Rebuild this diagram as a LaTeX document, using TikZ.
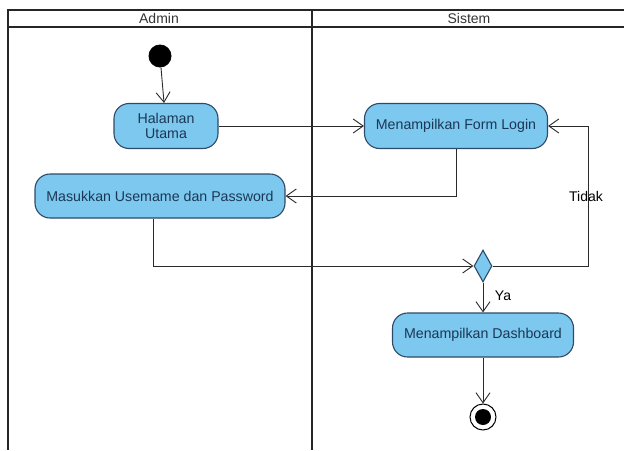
\documentclass[tikz,border=0pt]{standalone}
\usepackage{fontspec}
\setmainfont{Liberation Sans}
\usetikzlibrary{arrows.meta,shapes.geometric}
\definecolor{actfill}{HTML}{7CC8EE}
\definecolor{actdraw}{HTML}{2E4A68}
\definecolor{acttext}{HTML}{1C3756}
\definecolor{flow}{HTML}{2A2A2A}
\begin{document}
\begin{tikzpicture}[x=1pt,y=-1pt,
  act/.style={draw=actdraw,fill=actfill,line width=1.1pt,rounded corners=15pt,
    inner sep=0pt,text=acttext,font=\fontsize{14.2}{15.5}\selectfont,align=center},
  flowline/.style={draw=flow,line width=0.9pt,-{Straight Barb[length=10pt,width=14pt,line width=0.9pt]}},
  lane/.style={draw=black!85,line width=2pt},
  lbl/.style={font=\fontsize{14}{15}\selectfont,text=black,inner sep=0pt}]
\useasboundingbox (0,0) rectangle (624,450);
% swimlanes
\draw[lane] (8,450) -- (8,10) -- (626,10);
\draw[lane] (8,27) -- (626,27);
\draw[lane] (312,10) -- (312,450);
\node[lbl,text=black!80] (hadmin) at (159,18.5) {Admin};
\node[lbl,text=black!80] (hsistem) at (469,18.5) {Sistem};
% nodes
\node[circle,fill=black,minimum size=23pt,inner sep=0pt] (start) at (160,56) {};
\node[act,minimum width=104pt,minimum height=45pt] (halaman) at (166,126) {Halaman\\Utama};
\node[act,minimum width=183pt,minimum height=45pt] (form) at (456,126) {Menampilkan Form Login};
\node[act,minimum width=250pt,minimum height=44pt] (masuk) at (160,196) {Masukkan Usemame dan Password};
\node[diamond,draw=actdraw,fill=actfill,line width=1.1pt,aspect=0.56,minimum width=18pt,minimum height=32pt,inner sep=0pt] (dec) at (483,266) {};
\node[act,minimum width=181pt,minimum height=44pt] (dash) at (483,335) {Menampilkan Dashboard};
\node[circle,draw=black,fill=white,line width=1pt,minimum size=26pt,inner sep=0pt] (final) at (483,417) {};
\fill[black] (final.center) circle (8pt);
\coordinate (loopc) at (588,266);
% connectors
\draw[flowline] (start) -- (halaman);
\draw[flowline] (halaman.east) -- (form.west);
\draw[flowline] (form.south) |- (masuk.east);
\draw[flowline] ([xshift=-7pt]masuk.south) |- (dec.west);
\draw[flowline] (dec.east) -- (loopc) |- (form.east);
\node[lbl] (tidak) at (586,196) {Tidak};
\draw[flowline] (dec.south) -- (dash.north);
\node[lbl] (ya) at (503,296) {Ya};
\draw[flowline] (dash.south) -- (final.north);
\end{tikzpicture}
\end{document}
